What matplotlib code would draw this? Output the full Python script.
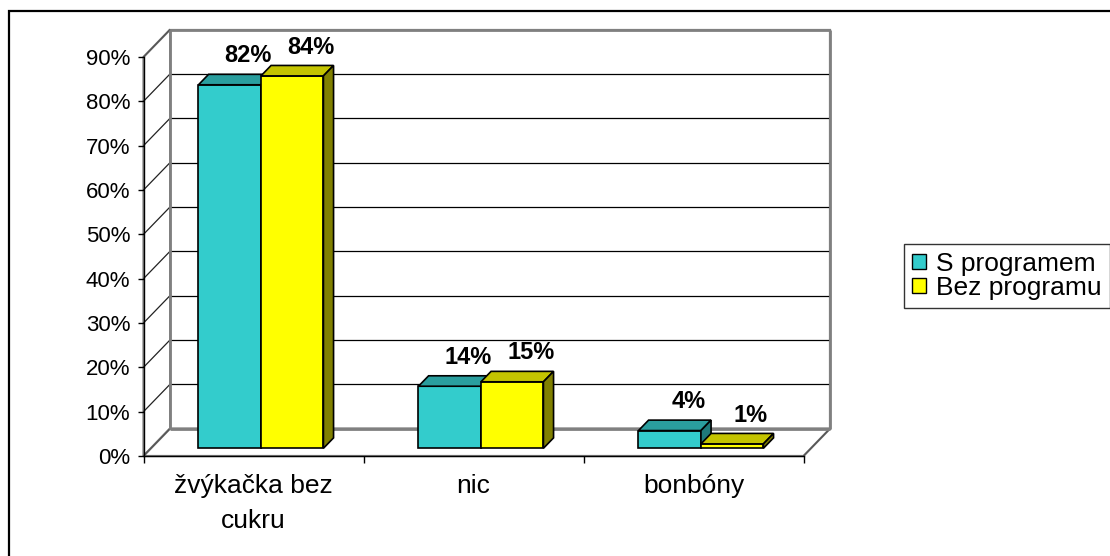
import matplotlib.pyplot as plt
from matplotlib.patches import Polygon, Patch, Rectangle
from matplotlib.ticker import FuncFormatter

categories = ["žvýkačka bez\ncukru", "nic", "bonbóny"]
series_names = ["S programem", "Bez programu"]
s_programem = [82, 14, 4]
bez_programu = [84, 15, 1]

# face colours for each series: front, top, side
teal = ("#33CCCC", "#2A9E9E", "#1F7A7A")
yellow = ("#FFFF00", "#C4C400", "#808000")

plt.rcParams["font.family"] = ["Liberation Sans", "DejaVu Sans"]

fig = plt.figure(figsize=(11.1, 5.56), dpi=100)
ax = fig.add_axes([143.5 / 1110, 100 / 556, 660 / 1110, 399 / 556])
ax.set_xlim(-0.5, 2.5)
ax.set_ylim(0, 90)

# depth of the fake 3d box in data units
dx, dy = 0.121, 6.2
bar_w = 0.284
z0, z1 = 0.28, 0.66  # front and back of the bars as fraction of the depth

wall_col = "#808080"
x_lo, x_hi = ax.get_xlim()
y_top = 90


def poly(pts, fc, ec, lw, z):
    ax.add_patch(Polygon(pts, closed=True, facecolor=fc, edgecolor=ec,
                         linewidth=lw, zorder=z, clip_on=False))


def line(xs, ys, color, lw, z=1):
    ax.plot(xs, ys, color=color, linewidth=lw, zorder=z, clip_on=False,
            solid_capstyle="butt")


# walls and floor
poly([(x_lo + dx, dy), (x_hi + dx, dy), (x_hi + dx, y_top + dy), (x_lo + dx, y_top + dy)],
     "white", wall_col, 1.6, 0.5)
poly([(x_lo, 0), (x_lo + dx, dy), (x_lo + dx, y_top + dy), (x_lo, y_top)],
     "white", wall_col, 1.6, 0.5)
poly([(x_lo, 0), (x_hi, 0), (x_hi + dx, dy), (x_lo + dx, dy)],
     "white", wall_col, 1.6, 0.5)

# gridlines on the back wall and the left wall
for v in range(10, 90, 10):
    line([x_lo + dx, x_hi + dx], [v + dy, v + dy], "black", 0.9)
    line([x_lo, x_lo + dx], [v, v + dy], "#222222", 0.9)
for v in (0, 90):
    line([x_lo, x_lo + dx], [v, v + dy], "#555555", 1.0)
line([x_hi, x_hi + dx], [0, dy], "#555555", 1.0)
# redraw the wall borders over the gridline ends
line([x_lo + dx, x_lo + dx], [dy, y_top + dy], wall_col, 2.0, 1.2)
line([x_hi + dx, x_hi + dx], [dy, y_top + dy], wall_col, 2.0, 1.2)
line([x_lo + dx, x_hi + dx], [dy, dy], wall_col, 2.0, 1.2)
line([x_lo + dx, x_hi + dx], [y_top + dy, y_top + dy], wall_col, 2.0, 1.2)


def box(x0, value, colors, z):
    x1 = x0 + bar_w
    ox, oy = z0 * dx, z0 * dy
    ddx, ddy = (z1 - z0) * dx, (z1 - z0) * dy
    fx0, fx1 = x0 + ox, x1 + ox
    b, t = oy, value + oy
    poly([(fx0, b), (fx1, b), (fx1, t), (fx0, t)], colors[0], "black", 1.2, z)
    poly([(fx0, t), (fx1, t), (fx1 + ddx, t + ddy), (fx0 + ddx, t + ddy)],
         colors[1], "black", 1.2, z)
    poly([(fx1, b), (fx1 + ddx, b + ddy), (fx1 + ddx, t + ddy), (fx1, t)],
         colors[2], "black", 1.2, z)
    ax.text(fx0 + bar_w / 2 + 0.7 * dx, t + 6.5, f"{value}%", ha="center",
            va="center", fontsize=17, fontweight="bold", zorder=5, clip_on=False)


for i in range(len(categories)):
    box(i - bar_w, s_programem[i], teal, 3 + i * 0.1)
    box(i, bez_programu[i], yellow, 3.05 + i * 0.1)

# axes: left spine is the front value axis, bottom spine the floor edge
for side in ("top", "right"):
    ax.spines[side].set_visible(False)
for side in ("left", "bottom"):
    ax.spines[side].set_linewidth(1.0)
    ax.spines[side].set_zorder(2)

ax.set_yticks(range(0, 91, 10))
ax.yaxis.set_major_formatter(FuncFormatter(lambda v, _: f"{v:.0f}%"))
ax.tick_params(axis="y", direction="out", length=4.5, width=1.0,
               labelsize=16, pad=5)

ax.set_xticks([x_lo + k for k in range(len(categories) + 1)])
ax.set_xticklabels([])
ax.set_xticks(range(len(categories)), minor=True)
ax.set_xticklabels(categories, minor=True, fontsize=19, linespacing=1.55)
ax.tick_params(axis="x", which="major", direction="out", length=5, width=1.0)
ax.tick_params(axis="x", which="minor", length=0, pad=13)

handles = [Patch(facecolor=teal[0], edgecolor="black"),
           Patch(facecolor=yellow[0], edgecolor="black")]
leg = fig.legend(handles, series_names, loc="center left",
                 bbox_to_anchor=(904 / 1110, 1 - 276 / 556), frameon=True,
                 fancybox=False, edgecolor="black", fontsize=19,
                 handlelength=0.52, handleheight=0.52, handletextpad=0.38,
                 labelspacing=0.0, borderpad=0.32, borderaxespad=0)
leg.get_frame().set_linewidth(1.0)

# outer chart border
fig.add_artist(Rectangle((9 / 1110, -0.1), 1.2, 1.1 - 11 / 556,
                         transform=fig.transFigure, fill=False,
                         edgecolor="black", linewidth=1.6))

fig.savefig("out.png", dpi=100)
